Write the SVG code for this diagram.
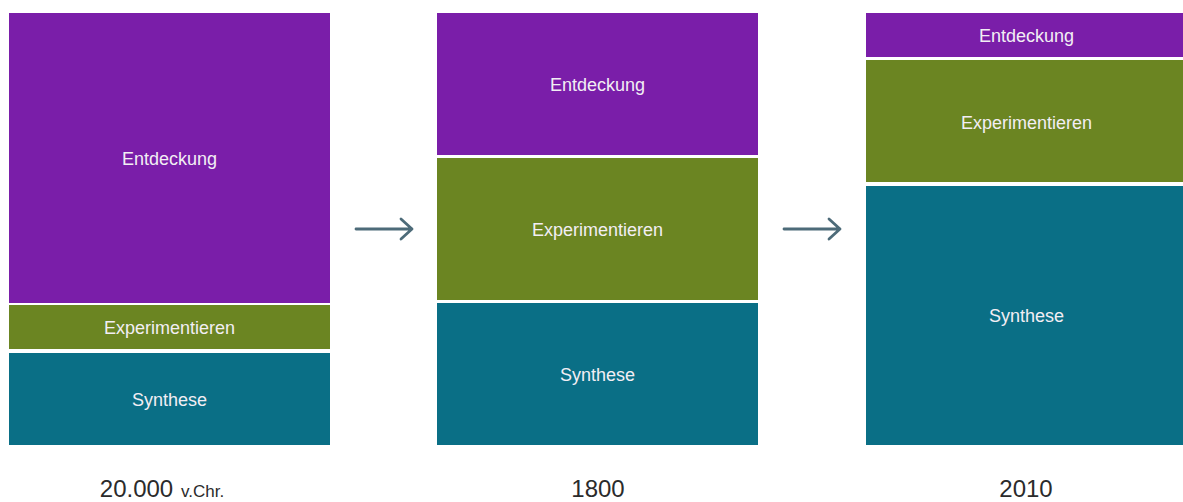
<svg xmlns="http://www.w3.org/2000/svg" width="1183" height="502" viewBox="0 0 1183 502">
<style>
.p{fill:#7a1ea9}.g{fill:#6b8522}.t{fill:#0a6f86}
.lb{font-family:"Liberation Sans",Arial,sans-serif;font-size:18px;fill:#f2eef4;text-anchor:middle}
.yr{font-family:"Liberation Sans",Arial,sans-serif;font-size:24px;fill:#2b2b2b;text-anchor:middle}
.sm{font-family:"Liberation Sans",Arial,sans-serif;font-size:17px;fill:#2b2b2b}
.ar{stroke:#4d6b79;stroke-width:2.8;fill:none;stroke-linecap:round;stroke-linejoin:round}
</style>
<rect width="1183" height="502" fill="#fff"/>
<g id="col1">
<g id="c1-entdeckung"><rect class="p" x="9" y="13" width="321" height="290"/><text class="lb" x="169.5" y="165">Entdeckung</text></g>
<g id="c1-experimentieren"><rect class="g" x="9" y="305" width="321" height="44"/><text class="lb" x="169.5" y="334">Experimentieren</text></g>
<g id="c1-synthese"><rect class="t" x="9" y="353" width="321" height="92"/><text class="lb" x="169.5" y="406">Synthese</text></g>
<text class="yr" x="136.5" y="497">20.000</text><text class="sm" x="181" y="497">v.Chr.</text>
</g>
<g id="col2">
<g id="c2-entdeckung"><rect class="p" x="437" y="13" width="321" height="142"/><text class="lb" x="597.5" y="91">Entdeckung</text></g>
<g id="c2-experimentieren"><rect class="g" x="437" y="158" width="321" height="142"/><text class="lb" x="597.5" y="236">Experimentieren</text></g>
<g id="c2-synthese"><rect class="t" x="437" y="303" width="321" height="142"/><text class="lb" x="597.5" y="381">Synthese</text></g>
<text class="yr" x="598" y="497">1800</text>
</g>
<g id="col3">
<g id="c3-entdeckung"><rect class="p" x="866" y="13" width="321" height="44"/><text class="lb" x="1026.5" y="42">Entdeckung</text></g>
<g id="c3-experimentieren"><rect class="g" x="866" y="60" width="321" height="122"/><text class="lb" x="1026.5" y="129">Experimentieren</text></g>
<g id="c3-synthese"><rect class="t" x="866" y="186" width="321" height="259"/><text class="lb" x="1026.5" y="322">Synthese</text></g>
<text class="yr" x="1026" y="497">2010</text>
</g>
<g id="connectors">
<path class="ar" d="M356 229H412M401 219L412 229L401 239"/>
<path class="ar" d="M784 229H840M829 219L840 229L829 239"/>
</g>
</svg>
